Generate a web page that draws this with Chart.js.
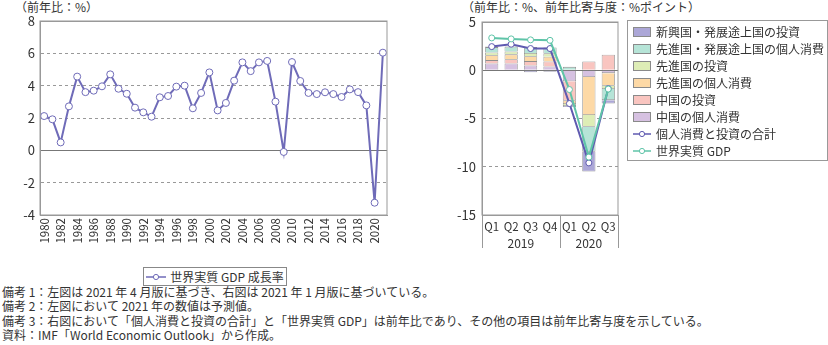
<!DOCTYPE html>
<html lang="ja">
<head>
    <meta charset="UTF-8">
    <title>世界実質 GDP 成長率</title>
    <script src="https://cdn.jsdelivr.net/npm/chart.js"></script>
    <style>
        body {
            margin: 0;
            width: 828px;
            height: 345px;
            background: #fff;
            font-family: "Noto Sans CJK JP", "Noto Sans", sans-serif;
            color: #333;
            position: relative;
            overflow: hidden;
        }
        .abs { position: absolute; }
        .title { font-size: 12px; line-height: 14px; white-space: nowrap; }
        #leftCanvas { left: 0; top: 0; }
        #rightCanvas { left: 440px; top: 0; }
        .legend-left {
            left: 143px; top: 267px; width: 142px; height: 17px;
            border: 1px solid #888; font-size: 12px; line-height: 17px;
            display: flex; align-items: center; justify-content: center;
        }
        .legend-right {
            left: 627px; top: 20px; width: 199px; height: 137px;
            border: 1px solid #999; font-size: 12px; padding-top: 2px; box-sizing: content-box;
        }
        .row { height: 17px; line-height: 17px; display: flex; align-items: center; white-space: nowrap; }
        .swatch { width: 16px; height: 8px; margin-left: 5px; margin-right: 5px; border: 1px solid #8a8a8a; }
        .row svg { margin-left: 5px; margin-right: 5px; }
        .notes { left: 2px; top: 285px; font-size: 12px; line-height: 14.3px; white-space: nowrap; }
    </style>
</head>
<body>
    <div class="abs title" style="left:15px; top:0;">（前年比：%）</div>
    <div class="abs title" style="left:462px; top:0;">（前年比：%、前年比寄与度：%ポイント）</div>

    <canvas id="leftCanvas" class="abs" width="420" height="262"></canvas>
    <canvas id="rightCanvas" class="abs" width="190" height="255"></canvas>

    <div class="abs legend-left">
        <svg width="20" height="8"><line x1="0" y1="4" x2="20" y2="4" stroke="#6f6bb8" stroke-width="1.5"/><circle cx="10" cy="4" r="2.6" fill="#fff" stroke="#6f6bb8" stroke-width="1"/></svg>
        <span style="margin-left:4px;">世界実質 GDP 成長率</span>
    </div>

    <div class="abs legend-right" id="rightLegend"></div>

    <div class="abs notes">
        備考 1：左図は 2021 年 4 月版に基づき、右図は 2021 年 1 月版に基づいている。<br>
        備考 2：左図において 2021 年の数値は予測値。<br>
        備考 3：右図において「個人消費と投資の合計」と「世界実質 GDP」は前年比であり、その他の項目は前年比寄与度を示している。<br>
        資料：IMF「World Economic Outlook」から作成。
    </div>

    <script>
        // 左図：世界実質 GDP 成長率
        const years = ["1980", "1981", "1982", "1983", "1984", "1985", "1986", "1987", "1988", "1989",
            "1990", "1991", "1992", "1993", "1994", "1995", "1996", "1997", "1998", "1999",
            "2000", "2001", "2002", "2003", "2004", "2005", "2006", "2007", "2008", "2009",
            "2010", "2011", "2012", "2013", "2014", "2015", "2016", "2017", "2018", "2019",
            "2020", "2021"];
        const gdpGrowth = [2.12, 1.92, 0.49, 2.72, 4.56, 3.6, 3.69, 3.96, 4.7, 3.81,
            3.5, 2.64, 2.35, 2.08, 3.28, 3.36, 3.94, 4.0, 2.6, 3.55,
            4.82, 2.47, 2.93, 4.31, 5.44, 4.9, 5.44, 5.53, 3.01, -0.1,
            5.46, 4.29, 3.55, 3.48, 3.59, 3.48, 3.3, 3.77, 3.6, 2.78,
            -3.24, 6.04];
        const leftTicks = [-4, -2, 0, 2, 4, 6, 8];

        // 右図：寄与度
        const quarters = ["Q1", "Q2", "Q3", "Q4", "Q1", "Q2", "Q3"];
        const yearGroups = ["2019", "2020"];
        const chinaConsumption = [0.7, 0.7, 0.5, 0.4, -1.15, -0.7, -0.3];
        const chinaInvestment = [0.35, 0.45, 0.45, 0.5, -2.0, 0.9, 1.6];
        const advConsumption = [0.5, 0.5, 0.5, 0.5, -0.35, -3.95, -1.3];
        const advInvestment = [0.3, 0.3, 0.35, 0.35, -0.2, -1.2, -0.35];
        const emConsumption = [0.55, 0.5, 0.6, 0.6, 0.35, -2.6, -1.15];
        const emInvestment = [0.05, 0.05, -0.2, -0.15, -0.1, -2.05, -0.35];
        const totalConsInv = [2.45, 2.7, 2.25, 2.25, -3.45, -9.6, -1.9];
        const worldGdp = [3.35, 3.25, 3.15, 3.1, -2.0, -9.0, -1.95];

        const FONT = "'Noto Sans CJK JP', 'Noto Sans', sans-serif";
        const TEXT = "#333";

        // 枠線
        const frame = {
            id: "frame",
            afterDraw(chart) {
                const { ctx, chartArea: a } = chart;
                ctx.save();
                ctx.strokeStyle = "#999";
                ctx.lineWidth = 1;
                ctx.strokeRect(a.left, a.top, a.right - a.left, a.bottom - a.top);
                ctx.restore();
            }
        };

        function gridColor(ctx) {
            return ctx.tick && ctx.tick.value === 0 ? "#777" : "#999";
        }
        function gridDash(min, max) {
            return ctx => {
                if (!ctx.tick) return [];
                const v = ctx.tick.value;
                return (v === 0 || v === min || v === max) ? [] : [3, 3];
            };
        }

        new Chart(document.getElementById("leftCanvas"), {
            type: "line",
            data: {
                labels: years,
                datasets: [{
                    label: "世界実質 GDP 成長率",
                    data: gdpGrowth,
                    borderColor: "#6f6bb8",
                    borderWidth: 2,
                    pointRadius: 3.5,
                    pointBackgroundColor: "#fff",
                    pointBorderColor: "#6f6bb8",
                    pointBorderWidth: 1,
                    tension: 0
                }]
            },
            options: {
                responsive: false,
                animation: false,
                layout: { padding: { left: 0, right: 33, top: 21, bottom: 0 } },
                plugins: { legend: { display: false }, tooltip: { enabled: false } },
                scales: {
                    x: {
                        offset: true,
                        grid: { display: false, drawTicks: false },
                        border: { color: "#999" },
                        ticks: {
                            autoSkip: false, maxRotation: 90, minRotation: 90, padding: 3,
                            color: TEXT, font: { family: FONT, size: 11.5 },
                            callback: (v, i) => (i % 2 === 0 ? years[i] : "")
                        },
                        afterFit: s => { s.height = 47; }
                    },
                    y: {
                        min: -4, max: 8,
                        afterBuildTicks: s => { s.ticks = leftTicks.map(v => ({ value: v })); },
                        grid: { color: gridColor, drawTicks: false, lineWidth: 1 },
                        border: { color: "#999", dash: gridDash(-4, 8) },
                        ticks: { padding: 5, color: TEXT, font: { family: FONT, size: 13 } },
                        afterFit: s => { s.width = 40; }
                    }
                }
            },
            plugins: [frame]
        });

        // 右図の年ラベルと区切り線
        const yearAxis = {
            id: "yearAxis",
            afterDraw(chart) {
                const { ctx, chartArea: a, scales: { x } } = chart;
                const mid = (x.getPixelForValue(3) + x.getPixelForValue(4)) / 2;
                ctx.save();
                ctx.strokeStyle = "#999";
                ctx.lineWidth = 1;
                [a.left, mid, a.right].forEach(px => {
                    ctx.beginPath();
                    ctx.moveTo(Math.round(px) + 0.5, a.bottom);
                    ctx.lineTo(Math.round(px) + 0.5, a.bottom + 33);
                    ctx.stroke();
                });
                ctx.fillStyle = TEXT;
                ctx.font = "12px " + FONT;
                ctx.textAlign = "center";
                ctx.textBaseline = "middle";
                ctx.fillText(yearGroups[0], (a.left + mid) / 2, a.bottom + 28);
                ctx.fillText(yearGroups[1], (mid + a.right) / 2, a.bottom + 28);
                ctx.restore();
            }
        };

        const barSeries = [
            { label: "中国の個人消費", data: chinaConsumption, color: "#d6c1e1" },
            { label: "中国の投資", data: chinaInvestment, color: "#f9c5c0" },
            { label: "先進国の個人消費", data: advConsumption, color: "#fdd9a6" },
            { label: "先進国の投資", data: advInvestment, color: "#deedb6" },
            { label: "先進国・発展途上国の個人消費", data: emConsumption, color: "#b6e4d7" },
            { label: "新興国・発展途上国の投資", data: emInvestment, color: "#aca7d7" }
        ];
        const lineSeries = [
            { label: "個人消費と投資の合計", data: totalConsInv, color: "#5f5ab0" },
            { label: "世界実質 GDP", data: worldGdp, color: "#5fc4a8" }
        ];

        const rightDatasets = barSeries.map(s => ({
            type: "bar",
            label: s.label,
            data: s.data,
            backgroundColor: s.color,
            borderColor: "#8f8f8f",
            borderWidth: 0.8,
            stack: "bars",
            order: 2,
            barPercentage: 0.68,
            categoryPercentage: 1
        })).concat(lineSeries.map((s, i) => ({
            type: "line",
            label: s.label,
            data: s.data,
            borderColor: s.color,
            borderWidth: 2,
            pointRadius: 3,
            pointBackgroundColor: "#fff",
            pointBorderColor: s.color,
            pointBorderWidth: 1,
            tension: 0,
            stack: "line" + i,
            order: 1 - i
        })));

        new Chart(document.getElementById("rightCanvas"), {
            data: { labels: quarters, datasets: rightDatasets },
            options: {
                responsive: false,
                animation: false,
                layout: { padding: { left: 0, right: 12, top: 22, bottom: 0 } },
                plugins: { legend: { display: false }, tooltip: { enabled: false } },
                scales: {
                    x: {
                        stacked: true,
                        grid: { display: false, drawTicks: false },
                        border: { color: "#999" },
                        ticks: {
                            autoSkip: false, maxRotation: 0, minRotation: 0, padding: 5,
                            color: TEXT, font: { family: FONT, size: 11.5 }
                        },
                        afterFit: s => { s.height = 40; }
                    },
                    y: {
                        stacked: true,
                        min: -15, max: 5,
                        ticks: { stepSize: 5, padding: 6, color: TEXT, font: { family: FONT, size: 13 } },
                        grid: { color: gridColor, drawTicks: false, lineWidth: 1 },
                        border: { color: "#999", dash: gridDash(-15, 5) },
                        afterFit: s => { s.width = 42; }
                    }
                }
            },
            plugins: [frame, yearAxis]
        });

        // 右図の凡例
        const legendEl = document.getElementById("rightLegend");
        barSeries.slice().reverse().forEach(s => {
            const row = document.createElement("div");
            row.className = "row";
            row.innerHTML = `<span class="swatch" style="background:${s.color}"></span><span>${s.label}</span>`;
            legendEl.appendChild(row);
        });
        lineSeries.forEach(s => {
            const row = document.createElement("div");
            row.className = "row";
            row.innerHTML = `<svg width="18" height="8"><line x1="0" y1="4" x2="18" y2="4" stroke="${s.color}" stroke-width="1.5"/><circle cx="9" cy="4" r="2.6" fill="#fff" stroke="${s.color}" stroke-width="1"/></svg><span>${s.label}</span>`;
            legendEl.appendChild(row);
        });
    </script>
</body>
</html>
